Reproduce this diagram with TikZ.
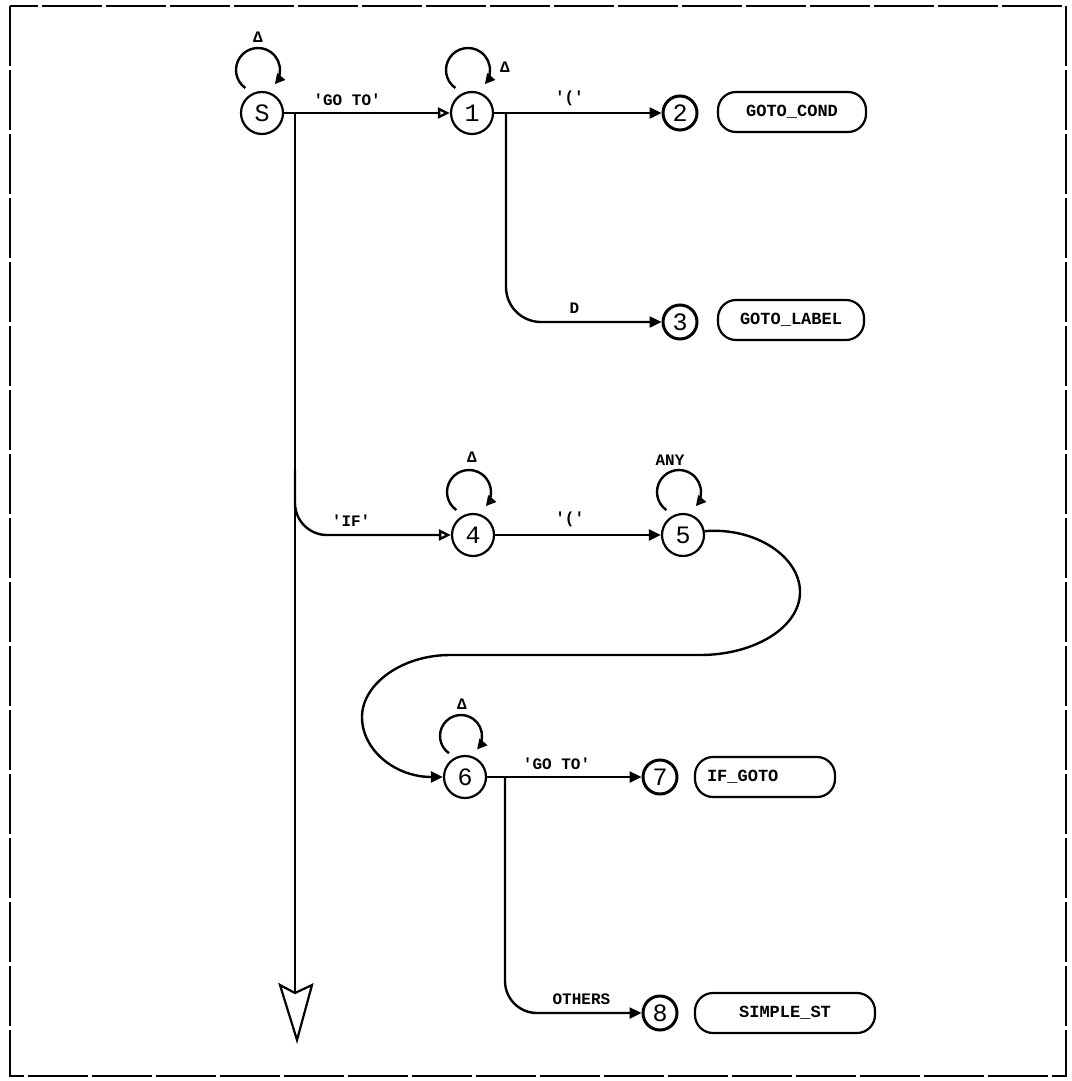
\documentclass[tikz,border=0pt]{standalone}
\usepackage{fontspec}
\setmonofont{Liberation Mono}
\usetikzlibrary{arrows.meta}
\newcommand\statefont{\ttfamily\fontsize{25}{25}\selectfont}
\newcommand\lblfont{\ttfamily\bfseries\fontsize{16}{16}\selectfont}
\newcommand\boxfont{\ttfamily\bfseries\fontsize{17}{17}\selectfont}
\begin{document}
\begin{tikzpicture}[x=1pt,y=1pt,
  state/.style={circle, draw, line width=2.2pt, minimum size=42pt, inner sep=0pt, font=\statefont},
  final/.style={circle, draw, line width=3pt, minimum size=34pt, inner sep=0pt, font=\statefont},
  outbox/.style={draw, line width=2.2pt, rounded corners=18pt, minimum height=40pt, inner sep=0pt, font=\boxfont},
  lbl/.style={font=\lblfont, inner sep=1pt},
  edge/.style={line width=2.4pt},
  farr/.style={edge, -{Triangle[length=12pt,width=11pt]}},
  oarr/.style={edge, -{Triangle[open,length=12pt,width=11pt]}},
  looparr/.style={edge, -{Triangle[length=10pt,width=10pt]}},
  looparro/.style={edge, -{Triangle[open,length=10pt,width=10pt]}}
]
\useasboundingbox (0,0) rectangle (1071,-1081);
% border
\draw[line width=2pt, dash pattern=on 60pt off 4pt] (10,-6) rectangle (1066,-1076);

% nodes
\node[state] (S)  at (262,-113) {S};
\node[state] (N1) at (472,-113) {1};
\node[final] (N2) at (680,-113) {2};
\node[outbox, minimum width=148pt] (B2) at (792,-112) {GOTO\_COND};
\node[final] (N3) at (680,-322) {3};
\node[outbox, minimum width=146pt] (B3) at (791,-320) {GOTO\_LABEL};
\node[state] (N4) at (473,-535) {4};
\node[state] (N5) at (683,-535) {5};
\node[state] (N6) at (465,-777) {6};
\node[final] (N7) at (660,-777) {7};
\node[outbox, minimum width=140pt, text width=116pt, align=left] (B7) at (765,-777) {IF\_GOTO};
\node[final] (N8) at (660,-1013) {8};
\node[outbox, minimum width=180pt] (B8) at (785,-1013) {SIMPLE\_ST};

% junction coordinates
\coordinate (jS) at (295,-113);
\coordinate (jIF) at (295,-470);
\coordinate (j1) at (506,-113);
\coordinate (j6) at (505,-777);
\coordinate (tail) at (295,-993);

% self loops
\draw[looparr] ([shift={(-4,43)}]S.center) ++(235:22) arc[start angle=235, end angle=-40, radius=22];
\node[lbl] (dS) at ([shift={(-4,76)}]S.center) {Δ};
\draw[looparr] ([shift={(-4,43)}]N1.center) ++(235:22) arc[start angle=235, end angle=-40, radius=22];
\node[lbl] (d1) at ([shift={(33,46)}]N1.center) {Δ};
\draw[looparro] ([shift={(-4,43)}]N4.center) ++(235:22) arc[start angle=235, end angle=-40, radius=22];
\node[lbl] (d4) at ([shift={(-1,78)}]N4.center) {Δ};
\draw[looparro] ([shift={(-4,43)}]N5.center) ++(235:22) arc[start angle=235, end angle=-40, radius=22];
\node[lbl] (any) at ([shift={(-13,75)}]N5.center) {ANY};
\draw[looparr] ([shift={(-4,41)}]N6.center) ++(235:21) arc[start angle=235, end angle=-40, radius=21];
\node[lbl] (d6) at ([shift={(-3,73)}]N6.center) {Δ};

% edges
\draw[oarr] (S) -- node[lbl, above=5pt, pos=0.38] {'GO TO'} (N1);
\draw[farr] (N1) -- node[lbl, above=5pt, pos=0.45] {'('} (N2);
\draw[farr, rounded corners=35pt] (j1) |- node[lbl, above=6pt, pos=0.72] {D} (N3);
\draw[edge] (jS) -- (tail);
\draw[line width=2.2pt, line join=miter] (tail) -- (280,-985) -- (297,-1040) -- (312,-985) -- cycle;
\draw[oarr, rounded corners=32pt] (jIF) |- node[lbl, above=6pt, pos=0.68] {'IF'} (N4);
\draw[farr] (N4) -- node[lbl, above=6pt, pos=0.45] {'('} (N5);
\draw[farr] (N5.10) .. controls (756,-527) and (800,-557) .. (800,-592)
  .. controls (800,-627) and (755,-655) .. (700,-655) -- (450,-655)
  .. controls (402,-655) and (362,-684) .. (362,-717)
  .. controls (362,-750) and (395,-777) .. (N6.west);
\draw[farr] (N6) -- node[lbl, above=5pt, pos=0.45] {'GO TO'} (N7);
\draw[farr, rounded corners=32pt] (j6) |- node[lbl, above=6pt, pos=0.78] {OTHERS} (N8);
\end{tikzpicture}
\end{document}
